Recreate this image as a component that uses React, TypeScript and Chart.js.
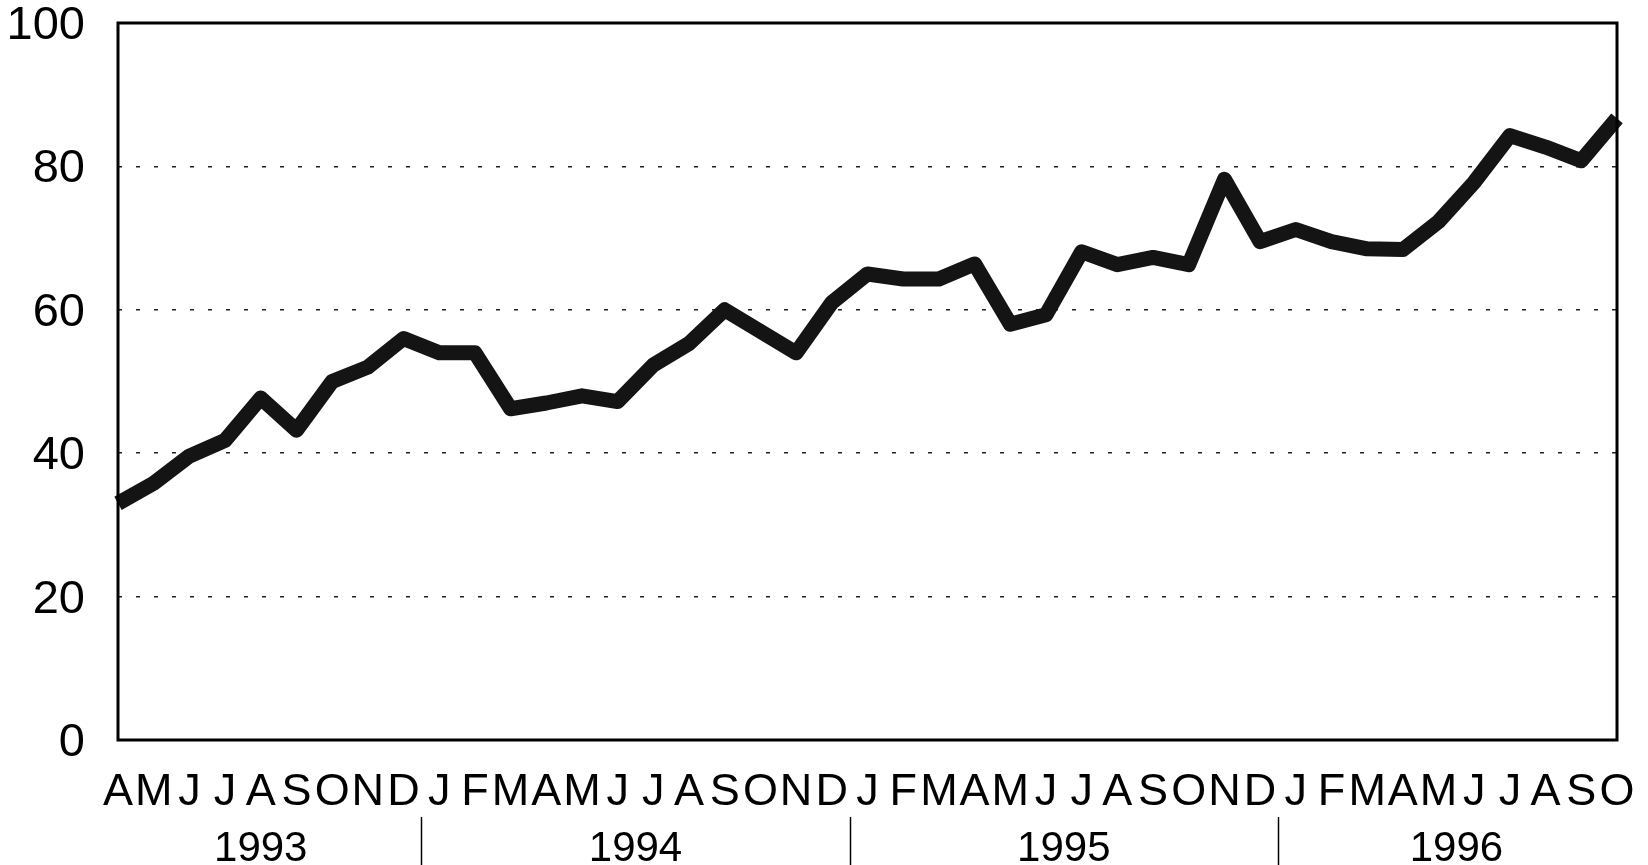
import React, { useEffect, useRef } from "react";
import { Chart, registerables } from "chart.js";

Chart.register(...registerables);

const monthLabels = [
  "A", "M", "J", "J", "A", "S", "O", "N", "D",
  "J", "F", "M", "A", "M", "J", "J", "A", "S", "O", "N", "D",
  "J", "F", "M", "A", "M", "J", "J", "A", "S", "O", "N", "D",
  "J", "F", "M", "A", "M", "J", "J", "A", "S", "O",
];

const seriesValues = [
  33, 35.8, 39.6, 41.8, 47.7, 43.2, 50, 52, 56,
  54, 54, 46.2, 47, 48, 47.2, 52.3, 55.3, 60, 57, 54, 61,
  65, 64.3, 64.3, 66.4, 58, 59.3, 68.1, 66.3, 67.3, 66.3, 78.2, 69.5,
  71.2, 69.5, 68.5, 68.4, 72.3, 77.8, 84.3, 82.7, 80.8, 86.7,
];

const yearLabels = ["1993", "1994", "1995", "1996"];
const yearMonthCounts = [9, 12, 12, 10];

const yMin = 0;
const yMax = 100;
const yStep = 20;

const FONT = '"Liberation Sans", Arial, Helvetica, sans-serif';

const framePlugin = {
  id: "frameAndYears",
  afterDraw(chart: any) {
    const { ctx, chartArea } = chart;
    const xs = chart.scales.x;
    ctx.save();
    // plot frame
    ctx.strokeStyle = "#000";
    ctx.lineWidth = 3;
    ctx.strokeRect(
      chartArea.left,
      chartArea.top,
      chartArea.right - chartArea.left,
      chartArea.bottom - chartArea.top
    );
    // year labels and separators
    ctx.fillStyle = "#000";
    ctx.font = `42px ${FONT}`;
    ctx.textAlign = "center";
    ctx.textBaseline = "middle";
    let start = 0;
    for (let i = 0; i < yearLabels.length; i++) {
      const first = start;
      const last = start + yearMonthCounts[i] - 1;
      const cx = (xs.getPixelForValue(first) + xs.getPixelForValue(last)) / 2;
      ctx.fillText(yearLabels[i], cx, chartArea.bottom + 109);
      if (i < yearLabels.length - 1) {
        const sx = Math.round(
          (xs.getPixelForValue(last) + xs.getPixelForValue(last + 1)) / 2
        );
        ctx.lineWidth = 1.5;
        ctx.beginPath();
        ctx.moveTo(sx + 0.5, chartArea.bottom + 77);
        ctx.lineTo(sx + 0.5, chart.height);
        ctx.stroke();
      }
      start = last + 1;
    }
    ctx.restore();
  },
};

export default function App() {
  const ref = useRef<HTMLCanvasElement | null>(null);

  useEffect(() => {
    document.body.style.margin = "0";
    if (!ref.current) return;
    const chart = new Chart(ref.current, {
      type: "line",
      data: {
        labels: monthLabels,
        datasets: [
          {
            data: seriesValues,
            borderColor: "#141414",
            borderWidth: 15,
            pointRadius: 0,
            tension: 0,
            borderJoinStyle: "round",
            borderCapStyle: "butt",
            fill: false,
          },
        ],
      },
      options: {
        animation: false,
        responsive: true,
        maintainAspectRatio: false,
        layout: { padding: { top: 23, right: 31, left: 0, bottom: 0 } },
        plugins: {
          legend: { display: false },
          tooltip: { enabled: false },
          title: { display: false },
        },
        scales: {
          x: {
            type: "category",
            offset: false,
            grid: { display: false, drawTicks: false },
            border: { display: false },
            ticks: {
              autoSkip: false,
              maxRotation: 0,
              minRotation: 0,
              padding: 26,
              color: "#000",
              font: { family: FONT, size: 45 },
            },
            afterFit(scale: any) {
              scale.height = 125;
              scale.paddingLeft = 0;
              scale.paddingRight = 0;
            },
          },
          y: {
            min: yMin,
            max: yMax,
            ticks: {
              stepSize: yStep,
              padding: 33,
              labelOffset: 3,
              color: "#000",
              font: { family: FONT, size: 47 },
            },
            grid: {
              drawTicks: false,
              lineWidth: 1.5,
              color: (c: any) =>
                c.tick && (c.tick.value === yMin || c.tick.value === yMax)
                  ? "rgba(0,0,0,0)"
                  : "#222",
            },
            border: { display: false, dash: [4, 14] },
            afterFit(scale: any) {
              scale.width = 118;
              scale.paddingTop = 0;
              scale.paddingBottom = 0;
            },
          },
        },
      },
      plugins: [framePlugin],
    });
    return () => chart.destroy();
  }, []);

  return (
    <div style={{ width: 1648, height: 865, position: "relative" }}>
      <canvas ref={ref} />
    </div>
  );
}
